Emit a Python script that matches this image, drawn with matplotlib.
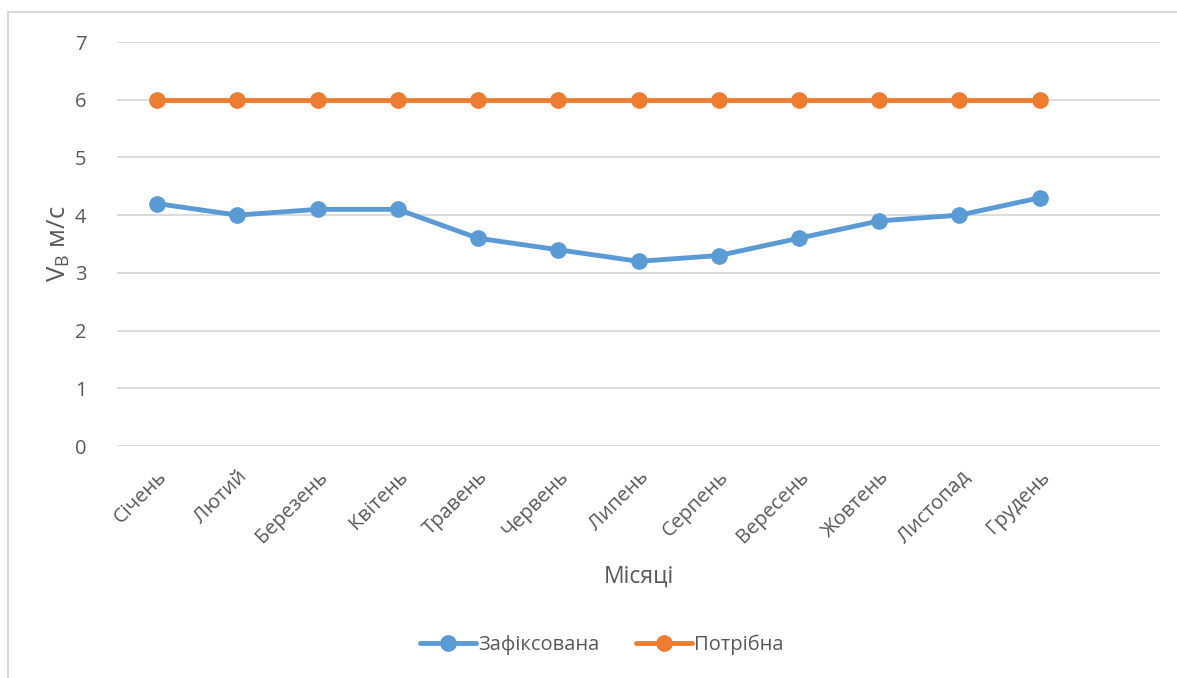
import matplotlib.pyplot as plt
from matplotlib.patches import Rectangle

months = ['Січень', 'Лютий', 'Березень', 'Квітень', 'Травень', 'Червень',
          'Липень', 'Серпень', 'Вересень', 'Жовтень', 'Листопад', 'Грудень']
recorded = [4.2, 4.0, 4.1, 4.1, 3.6, 3.4, 3.2, 3.3, 3.6, 3.9, 4.0, 4.3]
required = [6, 6, 6, 6, 6, 6, 6, 6, 6, 6, 6, 6]

plt.rcParams['font.family'] = ['Open Sans', 'DejaVu Sans']
txt = '#595959'

W, H = 1177, 678
fig = plt.figure(figsize=(W / 100, H / 100), dpi=100)
ax = fig.add_axes([117 / W, 1 - 446 / H, (1160 - 117) / W, (446 - 42) / H])

# рамка діаграми (видно лише лівий і верхній край)
fig.patches.append(Rectangle((8 / W, -0.05), 1.1, 1 - 12 / H + 0.05,
                             transform=fig.transFigure, fill=False,
                             edgecolor='#D9D9D9', linewidth=1.5))

x = range(len(months))
ax.plot(x, recorded, color='#5B9BD5', lw=3.5, marker='o', ms=11,
        label='Зафіксована', solid_capstyle='round', zorder=3)
ax.plot(x, required, color='#ED7D31', lw=3.5, marker='o', ms=11,
        label='Потрібна', solid_capstyle='round', zorder=3)

ax.set_xlim(-0.5, 12.5)
ax.set_ylim(0, 7)
ax.set_yticks(range(8))
ax.grid(axis='y', color='#D9D9D9', lw=1.3)
ax.set_axisbelow(True)
for s in ax.spines.values():
    s.set_visible(False)
ax.tick_params(length=0, colors=txt, labelsize=14.5)
ax.tick_params(axis='y', pad=22)
ax.set_xticks(list(x))
ax.set_xticklabels(months, rotation=45, ha='right', rotation_mode='anchor')
ax.tick_params(axis='x', pad=15)

ax.set_xlabel('Місяці', color=txt, fontsize=16.5, labelpad=13)
ax.set_ylabel(r'V$_\mathregular{B}$ м/с', color=txt, fontsize=18.5, labelpad=2)

fig.legend(loc='center', bbox_to_anchor=(602 / W, 1 - 645 / H), ncol=2,
           frameon=False, fontsize=14.5, labelcolor=txt, handlelength=2.8,
           handletextpad=0.1, columnspacing=1.8)

fig.savefig('out.png', dpi=100)
